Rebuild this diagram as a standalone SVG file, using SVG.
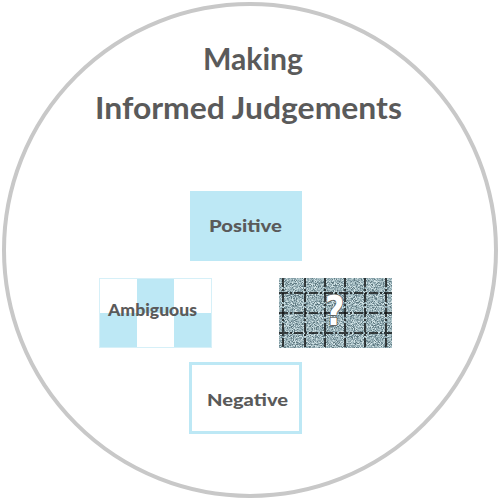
<svg xmlns="http://www.w3.org/2000/svg" width="500" height="500" viewBox="0 0 500 500">
  <style>
    .title{font-family:Lato,"Open Sans","DejaVu Sans",sans-serif;font-size:31px;fill:#5a5a5a;text-anchor:middle;font-weight:bold}
    .lbl{font-family:Lato,"DejaVu Sans",sans-serif;font-size:17px;font-weight:900;fill:#5a5a5a;text-anchor:middle}
    .blue{fill:#bde8f5}
    .grid{stroke:#111;stroke-width:1.5;stroke-dasharray:9 2 2 2;fill:none}
  </style>
  <defs>
    <filter id="noise" x="0" y="0" width="100%" height="100%" color-interpolation-filters="sRGB">
      <feTurbulence type="fractalNoise" baseFrequency="1.1" numOctaves="2" seed="3" result="t"/>
      <feColorMatrix in="t" type="matrix" values="0 0 0 2 -0.5  0 0 0 2 -0.5  0 0 0 2 -0.5  0 0 0 0 1" result="g"/>
      <feComponentTransfer in="g" result="d">
        <feFuncR type="discrete" tableValues="0.38 0.53 0.68 0.82"/>
        <feFuncG type="discrete" tableValues="0.48 0.63 0.77 0.89"/>
        <feFuncB type="discrete" tableValues="0.51 0.66 0.79 0.90"/>
      </feComponentTransfer>
      <feComposite in="d" in2="SourceAlpha" operator="in"/>
    </filter>
  </defs>
  <circle cx="250" cy="250" r="246" fill="#fff" stroke="#c8c8c8" stroke-width="4"/>
  <g id="title">
    <text class="title" x="253" y="70" textLength="100" lengthAdjust="spacingAndGlyphs">Making</text>
    <text class="title" x="248.5" y="119" textLength="307" lengthAdjust="spacingAndGlyphs">Informed Judgements</text>
  </g>
  <g id="connectors"></g>
  <g id="positive">
    <rect class="blue" x="190" y="191" width="112" height="70"/>
    <text class="lbl" x="245.5" y="232" textLength="73" lengthAdjust="spacingAndGlyphs">Positive</text>
  </g>
  <g id="ambiguous">
    <rect x="99.5" y="278.5" width="112" height="69" fill="#fff" stroke="#d6f0f8" stroke-width="1"/>
    <rect class="blue" x="137" y="279" width="37" height="34"/>
    <rect class="blue" x="100" y="313" width="37" height="34"/>
    <rect class="blue" x="174" y="313" width="37" height="34"/>
    <text class="lbl" x="152.5" y="316" textLength="89" lengthAdjust="spacingAndGlyphs">Ambiguous</text>
  </g>
  <g id="unknown">
    <rect x="279" y="278" width="113" height="70" fill="#8aa3a8" filter="url(#noise)"/>
    <path class="grid" d="M283 278V348M305 278V348M325 278V348M345 278V348M365 278V348M386 278V348M279 293H392M279 313H392M279 333H392"/>
    <text transform="translate(334.5 325) scale(0.85 1)" font-family="'DejaVu Sans',sans-serif" font-size="40" font-weight="bold" fill="#fff" stroke="#555" stroke-width="1.5" paint-order="stroke" text-anchor="middle">?</text>
  </g>
  <g id="negative">
    <rect x="190.5" y="363.5" width="110" height="69" fill="#fff" stroke="#bde8f5" stroke-width="3"/>
    <text class="lbl" x="247.5" y="406" textLength="81" lengthAdjust="spacingAndGlyphs">Negative</text>
  </g>
</svg>
